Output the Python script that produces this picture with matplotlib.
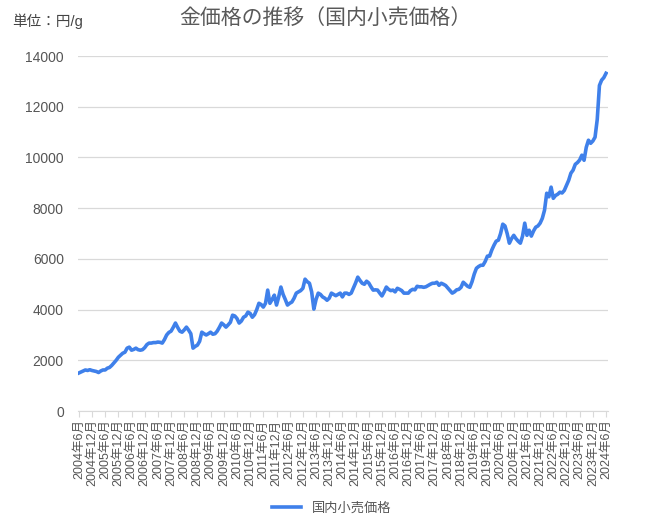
import matplotlib
matplotlib.use("Agg")
import matplotlib.pyplot as plt
import numpy as np

plt.rcParams['font.family'] = ['Liberation Sans', 'Noto Sans CJK JP', 'DejaVu Sans']

# 月次の国内小売価格（円/g）、2004年6月〜2024年6月
y2004 = [1500, 1540, 1580, 1620, 1600, 1630, 1600]
y2005 = [1580, 1560, 1520, 1580, 1620, 1620, 1690, 1720, 1800, 1900, 2000, 2120]
y2006 = [2200, 2280, 2320, 2480, 2520, 2400, 2430, 2480, 2420, 2400, 2420, 2500]
y2007 = [2620, 2680, 2680, 2700, 2700, 2720, 2710, 2680, 2820, 3000, 3100, 3150]
y2008 = [3300, 3470, 3300, 3150, 3110, 3200, 3310, 3190, 3050, 2480, 2550, 2600]
y2009 = [2750, 3110, 3050, 3000, 3050, 3110, 3030, 3050, 3150, 3300, 3470, 3400]
y2010 = [3310, 3400, 3500, 3780, 3750, 3650, 3470, 3550, 3700, 3750, 3900, 3850]
y2011 = [3700, 3800, 4000, 4250, 4200, 4100, 4250, 4770, 4250, 4400, 4570, 4180]
y2012 = [4500, 4890, 4600, 4400, 4180, 4250, 4300, 4450, 4650, 4700, 4750, 4840]
y2013 = [5200, 5100, 5040, 4700, 4020, 4400, 4650, 4600, 4500, 4450, 4370, 4450]
y2014 = [4650, 4600, 4550, 4600, 4650, 4500, 4650, 4650, 4600, 4650, 4850, 5050]
y2015 = [5280, 5150, 5040, 5000, 5120, 5050, 4900, 4770, 4780, 4770, 4650, 4540]
y2016 = [4700, 4890, 4800, 4750, 4770, 4700, 4840, 4800, 4750, 4650, 4650, 4650]
y2017 = [4750, 4800, 4780, 4920, 4900, 4900, 4880, 4900, 4950, 5000, 5040, 5040]
y2018 = [5080, 4960, 5040, 5000, 4950, 4850, 4750, 4650, 4700, 4780, 4800, 4880]
y2019 = [5080, 5000, 4920, 4880, 5100, 5400, 5630, 5700, 5750, 5750, 5900, 6110]
y2020 = [6110, 6350, 6540, 6700, 6740, 7000, 7370, 7300, 7000, 6620, 6800, 6930]
y2021 = [6800, 6700, 6620, 6900, 7410, 6930, 7130, 6900, 7100, 7250, 7300, 7410]
y2022 = [7600, 7920, 8590, 8450, 8830, 8390, 8500, 8550, 8630, 8600, 8700, 8900]
y2023 = [9100, 9380, 9500, 9730, 9800, 9900, 10090, 9890, 10400, 10680, 10560, 10650]
y2024 = [10800, 11500, 12840, 13050, 13150, 13320]

prices = (y2004 + y2005 + y2006 + y2007 + y2008 + y2009 + y2010 + y2011 + y2012
          + y2013 + y2014 + y2015 + y2016 + y2017 + y2018 + y2019 + y2020
          + y2021 + y2022 + y2023 + y2024)

# 月ラベル（2004年6月〜）
months = []
for k in range(len(prices)):
    m = 6 + k
    months.append((2004 + (m - 1) // 12, (m - 1) % 12 + 1))

tick_pos = [k for k, (yy, mm) in enumerate(months) if mm in (6, 12)]
tick_labels = [f"{months[k][0]}年{months[k][1]}月" for k in tick_pos]

fig = plt.figure(figsize=(6.64, 5.19), dpi=100)
ax = fig.add_axes([0.117, 0.208, 0.799, 0.684])

ax.plot(np.arange(len(prices)), prices, color='#3f80ea', linewidth=2.6,
        solid_joinstyle='round', label='国内小売価格')

ax.set_ylim(0, 14000)
ax.set_yticks(range(0, 14001, 2000))
ax.set_xlim(-0.5, len(prices))
ax.set_xticks(tick_pos)
ax.set_xticklabels(tick_labels, rotation=90)

ax.grid(axis='y', color='#d9d9d9', linewidth=0.9)
ax.set_axisbelow(True)
for s in ['top', 'right', 'left']:
    ax.spines[s].set_visible(False)
ax.spines['bottom'].set_color('#d9d9d9')
ax.tick_params(axis='y', length=0, labelsize=10, labelcolor='#555555', pad=10)
ax.tick_params(axis='x', length=4, color='#d9d9d9', labelsize=9,
               labelcolor='#555555', pad=2)

fig.text(0.49, 0.966, '金価格の推移（国内小売価格）', ha='center', va='center',
         fontsize=15, color='#595959')
fig.text(0.018, 0.96, '単位：円/g', ha='left', va='center',
         fontsize=10.5, color='#444444')

fig.legend(loc='center', bbox_to_anchor=(0.5, 0.02), frameon=False,
           fontsize=9.5, handlelength=2.2, labelcolor='#555555')

fig.savefig('out.png', dpi=100, facecolor='white')
